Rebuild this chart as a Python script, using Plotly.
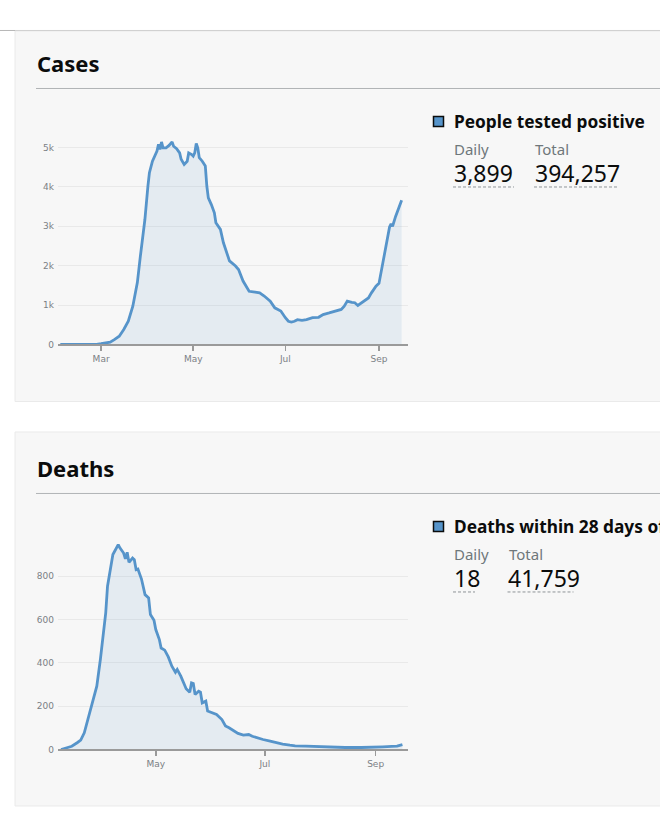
import plotly.graph_objects as go

# ---------------- data ----------------
cases_dates = ["2020-02-03", "2020-02-16", "2020-02-27", "2020-03-01", "2020-03-07", "2020-03-10",
               "2020-03-13", "2020-03-16", "2020-03-19", "2020-03-22", "2020-03-25", "2020-03-27",
               "2020-03-30", "2020-04-01", "2020-04-02", "2020-04-04", "2020-04-06", "2020-04-07",
               "2020-04-08", "2020-04-09", "2020-04-10", "2020-04-11", "2020-04-13", "2020-04-15",
               "2020-04-17", "2020-04-18", "2020-04-20", "2020-04-22", "2020-04-23", "2020-04-25",
               "2020-04-27", "2020-04-28", "2020-04-30", "2020-05-01", "2020-05-02", "2020-05-03",
               "2020-05-04", "2020-05-05", "2020-05-07", "2020-05-09", "2020-05-10", "2020-05-11",
               "2020-05-13", "2020-05-15", "2020-05-16", "2020-05-19", "2020-05-21", "2020-05-23",
               "2020-05-25", "2020-05-29", "2020-05-31", "2020-06-03", "2020-06-05", "2020-06-07",
               "2020-06-11", "2020-06-14", "2020-06-17", "2020-06-21", "2020-06-24", "2020-06-26",
               "2020-06-28", "2020-07-01", "2020-07-03", "2020-07-05", "2020-07-07", "2020-07-09",
               "2020-07-12", "2020-07-15", "2020-07-19", "2020-07-23", "2020-07-26", "2020-07-30",
               "2020-08-04", "2020-08-07", "2020-08-09", "2020-08-11", "2020-08-14", "2020-08-16",
               "2020-08-18", "2020-08-21", "2020-08-25", "2020-08-27", "2020-08-30", "2020-09-01",
               "2020-09-03", "2020-09-05", "2020-09-08", "2020-09-09", "2020-09-10", "2020-09-12",
               "2020-09-14", "2020-09-16"]
cases_values = [0, 0, 5, 20, 60, 130,
                210, 380, 590, 970, 1570, 2240,
                3170, 4020, 4360, 4650, 4800, 4910,
                5080, 4950, 5140, 4990, 4990, 5050,
                5140, 5030, 4970, 4860, 4700, 4570,
                4650, 4860, 4820, 4780, 4860, 5100,
                4990, 4740, 4650, 4530, 4020, 3720,
                3550, 3340, 3090, 2920, 2580, 2370,
                2120, 1990, 1900, 1610, 1480, 1350,
                1330, 1310, 1230, 1100, 930, 890,
                850, 680, 590, 570, 590, 630,
                610, 630, 680, 690, 760, 800,
                850, 890, 970, 1100, 1070, 1060,
                990, 1070, 1180, 1310, 1480, 1550,
                1950, 2350, 2980, 3060, 3000, 3250,
                3450, 3660]

deaths_dates = ["2020-03-09", "2020-03-12", "2020-03-15", "2020-03-18", "2020-03-20", "2020-03-22",
                "2020-03-23", "2020-03-25", "2020-03-27", "2020-03-29", "2020-03-31", "2020-04-02",
                "2020-04-03", "2020-04-04", "2020-04-07", "2020-04-08", "2020-04-10", "2020-04-11",
                "2020-04-13", "2020-04-14", "2020-04-15", "2020-04-16", "2020-04-18", "2020-04-19",
                "2020-04-20", "2020-04-21", "2020-04-23", "2020-04-25", "2020-04-27", "2020-04-28",
                "2020-04-30", "2020-05-01", "2020-05-03", "2020-05-04", "2020-05-06", "2020-05-08",
                "2020-05-10", "2020-05-12", "2020-05-13", "2020-05-15", "2020-05-17", "2020-05-18",
                "2020-05-20", "2020-05-21", "2020-05-22", "2020-05-23", "2020-05-25", "2020-05-26",
                "2020-05-27", "2020-05-29", "2020-05-30", "2020-06-01", "2020-06-04", "2020-06-07",
                "2020-06-09", "2020-06-11", "2020-06-14", "2020-06-16", "2020-06-19", "2020-06-22",
                "2020-06-24", "2020-06-27", "2020-06-30", "2020-07-04", "2020-07-07", "2020-07-11",
                "2020-07-15", "2020-07-18", "2020-07-24", "2020-07-31", "2020-08-06", "2020-08-15",
                "2020-08-24", "2020-09-01", "2020-09-05", "2020-09-10", "2020-09-13", "2020-09-16"]
deaths_values = [0, 6, 15, 31, 43, 77,
                 108, 161, 230, 292, 415, 553,
                 630, 753, 899, 914, 945, 929,
                 906, 879, 909, 863, 883, 875,
                 829, 832, 786, 714, 699, 622,
                 596, 553, 507, 468, 458, 427,
                 384, 356, 369, 338, 300, 280,
                 264, 307, 304, 253, 269, 264,
                 215, 223, 177, 172, 161, 138,
                 108, 100, 84, 74, 66, 69,
                 61, 52, 46, 38, 31, 25,
                 20, 17, 15, 12, 11, 9,
                 9, 9, 12, 14, 15, 22]

cases_xtick_vals = ["2020-03-01", "2020-05-01", "2020-07-01", "2020-09-01"]
cases_xtick_text = ["Mar", "May", "Jul", "Sep"]
cases_ytick_vals = [0, 1000, 2000, 3000, 4000, 5000]
cases_ytick_text = ["0", "1k", "2k", "3k", "4k", "5k"]

deaths_xtick_vals = ["2020-05-01", "2020-07-01", "2020-09-01"]
deaths_xtick_text = ["May", "Jul", "Sep"]
deaths_ytick_vals = [0, 200, 400, 600, 800]
deaths_ytick_text = ["0", "200", "400", "600", "800"]

card_titles = ["Cases", "Deaths"]
metric_titles = ["People tested positive", "Deaths within 28 days of positive test"]
daily_values = [3899, 18]
total_values = [394257, 41759]

# ---------------- layout helpers ----------------
W, H = 660, 827
# the captured picture comes out slightly squeezed vertically; pre-compensate
VSCALE = 832 / 827


def px(x):
    return x / W


def py(y):
    return 1 - (y * VSCALE) / H


BLUE = "#5694ca"
TEXT = "#0b0c0c"
GREY_TEXT = "#6f777b"
TICK_FONT = dict(family="DejaVu Sans", size=9, color="#7b8085")
MAIN_FONT = "Noto Sans"

fig = go.Figure()

fig.add_trace(go.Scatter(
    x=cases_dates, y=cases_values, mode="lines",
    line=dict(color=BLUE, width=2.8, shape="linear"),
    fill="tozeroy", fillcolor="rgba(86,148,202,0.11)",
    xaxis="x", yaxis="y", hoverinfo="skip"))

fig.add_trace(go.Scatter(
    x=deaths_dates, y=deaths_values, mode="lines",
    line=dict(color=BLUE, width=2.8, shape="linear"),
    fill="tozeroy", fillcolor="rgba(86,148,202,0.11)",
    xaxis="x2", yaxis="y2", hoverinfo="skip"))

xaxis_common = dict(showgrid=False, showline=True, linecolor="#9a9a9a", linewidth=2,
                    ticks="outside", ticklen=5, tickwidth=1.5, tickcolor="#9a9a9a",
                    tickfont=TICK_FONT, zeroline=False, fixedrange=True)
yaxis_common = dict(showgrid=True, gridcolor="#e9e9e9", gridwidth=1, showline=False,
                    ticks="", tickfont=TICK_FONT, zeroline=False, fixedrange=True,
                    ticklabelstandoff=3)

fig.update_layout(
    width=W, height=H, autosize=False,
    margin=dict(l=0, r=0, t=0, b=0, pad=0),
    paper_bgcolor="white", plot_bgcolor="rgba(0,0,0,0)",
    showlegend=False, hovermode=False,
    xaxis=dict(domain=[px(58), px(408)], anchor="y", type="date",
               range=["2020-02-01 11:00", "2020-09-20 05:00"],
               tickvals=cases_xtick_vals, ticktext=cases_xtick_text, **xaxis_common),
    yaxis=dict(domain=[py(344.5), py(136)], anchor="x", range=[0, 5290],
               tickvals=cases_ytick_vals, ticktext=cases_ytick_text, **yaxis_common),
    xaxis2=dict(domain=[px(58), px(408)], anchor="y2", type="date",
                range=["2020-03-07 07:00", "2020-09-19 03:00"],
                tickvals=deaths_xtick_vals, ticktext=deaths_xtick_text, **xaxis_common),
    yaxis2=dict(domain=[py(749.5), py(537)], anchor="x2", range=[0, 980],
                tickvals=deaths_ytick_vals, ticktext=deaths_ytick_text, **yaxis_common),
)

shapes = []
annotations = []

shapes.append(dict(type="line", xref="paper", yref="paper", x0=0, x1=1, y0=py(30.5), y1=py(30.5),
                   line=dict(color="#b8b8b8", width=1), layer="below"))

for i in range(2):
    off = 405 * i
    top = 31 if i == 0 else 432
    bottom = 401.5 if i == 0 else 806
    shapes.append(dict(type="rect", xref="paper", yref="paper",
                       x0=px(15), x1=px(700), y0=py(bottom), y1=py(top),
                       fillcolor="#f7f7f7", line=dict(color="#eaeaea", width=1), layer="below"))
    shapes.append(dict(type="line", xref="paper", yref="paper",
                       x0=px(36), x1=1, y0=py(88.5 + off), y1=py(88.5 + off),
                       line=dict(color="#b1b4b6", width=1), layer="below"))
    shapes.append(dict(type="rect", xref="paper", yref="paper",
                       x0=px(433.5), x1=px(443.5), y0=py(126.5 + off), y1=py(116.5 + off),
                       fillcolor=BLUE, line=dict(color=TEXT, width=1.5), layer="above"))

    annotations.append(dict(xref="paper", yref="paper", x=px(35), y=py(63 + off),
                            xanchor="left", yanchor="middle", showarrow=False,
                            text="<b>%s</b>" % card_titles[i],
                            font=dict(family=MAIN_FONT, size=22, color=TEXT)))
    annotations.append(dict(xref="paper", yref="paper", x=px(452), y=py(121.5 + off),
                            xanchor="left", yanchor="middle", showarrow=False,
                            text="<b>%s</b>" % metric_titles[i],
                            font=dict(family=MAIN_FONT, size=17.3, color=TEXT)))

    daily_txt = f"{daily_values[i]:,}"
    total_txt = f"{total_values[i]:,}"
    total_x = 534 if i == 0 else 507.5
    annotations.append(dict(xref="paper", yref="paper", x=px(452), y=py(149.5 + off),
                            xanchor="left", yanchor="middle", showarrow=False, text="Daily",
                            font=dict(family=MAIN_FONT, size=15, color=GREY_TEXT)))
    annotations.append(dict(xref="paper", yref="paper", x=px(total_x - 1), y=py(149.5 + off),
                            xanchor="left", yanchor="middle", showarrow=False, text="Total",
                            font=dict(family=MAIN_FONT, size=15, color=GREY_TEXT)))
    annotations.append(dict(xref="paper", yref="paper", x=px(451.5), y=py(173.5 + off),
                            xanchor="left", yanchor="middle", showarrow=False, text=daily_txt,
                            font=dict(family=MAIN_FONT, size=23, color=TEXT)))
    annotations.append(dict(xref="paper", yref="paper", x=px(total_x - 1.5), y=py(173.5 + off),
                            xanchor="left", yanchor="middle", showarrow=False, text=total_txt,
                            font=dict(family=MAIN_FONT, size=23, color=TEXT)))

    daily_w = 61 if i == 0 else 22
    total_w = 85 if i == 0 else 66
    for (x0, w) in ((453, daily_w), (total_x, total_w)):
        shapes.append(dict(type="line", xref="paper", yref="paper",
                           x0=px(x0), x1=px(x0 + w), y0=py(187 + off), y1=py(187 + off),
                           line=dict(color="#8f9498", width=1, dash="3px,2px"), layer="above"))

fig.update_layout(shapes=shapes, annotations=annotations)

post = (
    "var s=document.createElement('style');"
    "s.textContent='html,body{margin:0;padding:0;overflow:hidden;height:827px;width:660px;}"
    ".plotly-graph-div{position:absolute;left:0;top:0;}';"
    "document.head.appendChild(s);"
)
fig.write_html("out.html", config={"displayModeBar": False, "staticPlot": True},
               post_script=post)
